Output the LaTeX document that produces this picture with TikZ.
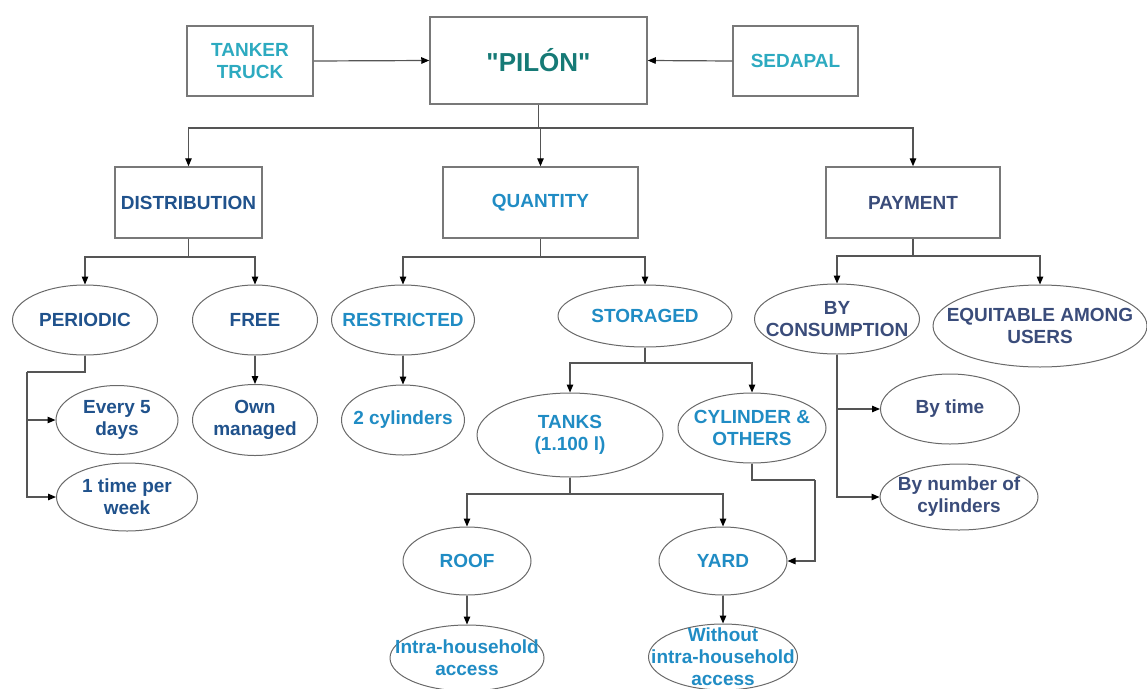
\documentclass[tikz,border=0pt]{standalone}
\usepackage{fontspec}
\setmainfont{Liberation Sans}
\newfontfamily\pilonfont{Liberation Sans}[Ligatures=TeXOff]
\usetikzlibrary{shapes.geometric,arrows.meta}
\definecolor{tealtxt}{RGB}{22,122,118}
\definecolor{cyantxt}{RGB}{45,170,192}
\definecolor{lbluetxt}{RGB}{32,140,196}
\definecolor{dbluetxt}{RGB}{32,82,140}
\definecolor{slatetxt}{RGB}{58,76,122}
\definecolor{boxgray}{RGB}{120,120,120}
\definecolor{ovalgray}{RGB}{105,105,105}
\definecolor{linegray}{RGB}{85,85,85}
\begin{document}
\begin{tikzpicture}[x=1pt,y=-1pt,
  box/.style={draw=boxgray,line width=1.5pt,rectangle,inner sep=0pt},
  oval/.style={draw=ovalgray,line width=1pt,ellipse,inner sep=0pt},
  txt/.style={font=\bfseries\fontsize{19}{22}\selectfont,align=center,inner sep=0pt},
  conn/.style={draw=linegray,line width=1.2pt},
  arr/.style={conn,-{Triangle[length=8pt,width=6.5pt,color=black]}}
]
\path[use as bounding box] (0,0) rectangle (1147,688);

% top row
\node[box,txt,text=cyantxt,minimum width=126pt,minimum height=70pt] (tanker) at (250,61) {TANKER\\TRUCK};
\node[box,minimum width=217pt,minimum height=87pt,font=\pilonfont\bfseries\fontsize{26}{30}\selectfont,text=tealtxt] (pilon) at (538.5,60.5) {"PILÓN"};
\node[box,txt,text=cyantxt,minimum width=125pt,minimum height=70pt] (sedapal) at (795.5,61) {SEDAPAL};

% second row
\node[box,txt,text=dbluetxt,minimum width=147pt,minimum height=71pt] (dist) at (188.5,202.5) {DISTRIBUTION};
\node[box,txt,text=lbluetxt,minimum width=195pt,minimum height=71pt] (quant) at (540.5,202.5) {QUANTITY};
\node[box,txt,text=slatetxt,minimum width=174pt,minimum height=71pt] (pay) at (913,202.5) {PAYMENT};

% ovals
\node[oval,minimum width=145pt,minimum height=70pt] (periodic) at (85,320) {};
\node[txt,text=dbluetxt] (tperiodic) at (periodic) {PERIODIC};
\node[oval,minimum width=125pt,minimum height=70pt] (free) at (255,320) {};
\node[txt,text=dbluetxt] (tfree) at (free) {FREE};
\node[oval,minimum width=143pt,minimum height=70pt] (restr) at (403,320) {};
\node[txt,text=lbluetxt] (trestr) at (restr) {RESTRICTED};
\node[oval,minimum width=174pt,minimum height=62pt] (stor) at (645,316) {};
\node[txt,text=lbluetxt] (tstor) at (stor) {STORAGED};
\node[oval,minimum width=165pt,minimum height=70pt] (bycons) at (837,319) {};
\node[txt,text=slatetxt] (tbycons) at (bycons) {BY\\CONSUMPTION};
\node[oval,minimum width=214pt,minimum height=82pt] (equit) at (1040,326) {};
\node[txt,text=slatetxt] (tequit) at (equit) {EQUITABLE AMONG\\USERS};

\node[oval,minimum width=122pt,minimum height=69pt] (every) at (117,420) {};
\node[txt,text=dbluetxt] (tevery) at (every) {Every 5\\days};
\node[oval,minimum width=141pt,minimum height=68pt] (onetime) at (127,497) {};
\node[txt,text=dbluetxt] (tonetime) at (onetime) {1 time per\\week};
\node[oval,minimum width=125pt,minimum height=71pt] (own) at (255,420) {};
\node[txt,text=dbluetxt] (town) at (own) {Own\\managed};
\node[oval,minimum width=123pt,minimum height=70pt] (twocyl) at (403,420) {};
\node[txt,text=lbluetxt] (ttwocyl) at (twocyl) {2 cylinders};
\node[oval,minimum width=186pt,minimum height=84pt] (tanks) at (570,435) {};
\node[txt,text=lbluetxt] (ttanks) at (tanks) {TANKS\\(1.100 l)};
\node[oval,minimum width=148pt,minimum height=70pt] (cyl) at (752,428) {};
\node[txt,text=lbluetxt] (tcyl) at (cyl) {CYLINDER \&\\OTHERS};
\node[oval,minimum width=139pt,minimum height=70pt] (bytime) at (950,409) {};
\node[txt,text=slatetxt] (tbytime) at (bytime) {By time};
\node[oval,minimum width=158pt,minimum height=66pt] (bynum) at (959,497) {};
\node[txt,text=slatetxt] (tbynum) at (bynum) {By number of\\cylinders};
\node[oval,minimum width=128pt,minimum height=68pt] (roof) at (467,561) {};
\node[txt,text=lbluetxt] (troof) at (roof) {ROOF};
\node[oval,minimum width=128pt,minimum height=68pt] (yard) at (723,561) {};
\node[txt,text=lbluetxt] (tyard) at (yard) {YARD};
\node[oval,minimum width=154pt,minimum height=66pt] (intra) at (467,658) {};
\node[txt,text=lbluetxt] (tintra) at (intra) {Intra-household\\access};
\node[oval,minimum width=149pt,minimum height=66pt] (without) at (723,657) {};
\node[txt,text=lbluetxt] (twithout) at (without) {Without\\intra-household\\access};

% junction coordinates
\coordinate (j0) at (538.5,128);
\coordinate (jd) at (188.5,257);
\coordinate (jq) at (540.5,257);
\coordinate (jp) at (913,256);
\coordinate (jper) at (27,372);
\coordinate (js) at (645,363);
\coordinate (jt) at (570,494);
\coordinate (jc) at (815,480);

% connectors
\draw[arr] (tanker.east) -- (pilon.west);
\draw[arr] (sedapal.west) -- (pilon.east);
\draw[conn] (pilon.south) -- (j0);
\draw[arr] (j0) -| (dist.north);
\draw[arr] (j0) -| (quant.north);
\draw[arr] (j0) -| (pay.north);

\draw[conn] (dist.south) -- (jd);
\draw[arr] (jd) -| (periodic.north);
\draw[arr] (jd) -| (free.north);
\draw[conn] (quant.south) -- (jq);
\draw[arr] (jq) -| (restr.north);
\draw[arr] (jq) -| (stor.north);
\draw[conn] (pay.south) -- (jp);
\draw[arr] (jp) -| (bycons.north);
\draw[arr] (jp) -| (equit.north);

\draw[conn] (periodic.south) |- (jper);
\draw[arr] (jper) |- (every.west);
\draw[arr] (jper) |- (onetime.west);
\draw[arr] (free.south) -- (own.north);
\draw[arr] (restr.south) -- (twocyl.north);

\draw[conn] (stor.south) -- (js);
\draw[arr] (js) -| (tanks.north);
\draw[arr] (js) -| (cyl.north);

\draw[arr] (bycons.south) |- (bytime.west);
\draw[arr] (bycons.south) |- (bynum.west);

\draw[conn] (tanks.south) -- (jt);
\draw[arr] (jt) -| (roof.north);
\draw[arr] (jt) -| (yard.north);
\draw[conn] (cyl.south) |- (jc);
\draw[arr] (jc) |- (yard.east);

\draw[arr] (roof.south) -- (intra.north);
\draw[arr] (yard.south) -- (without.north);
\end{tikzpicture}
\end{document}
